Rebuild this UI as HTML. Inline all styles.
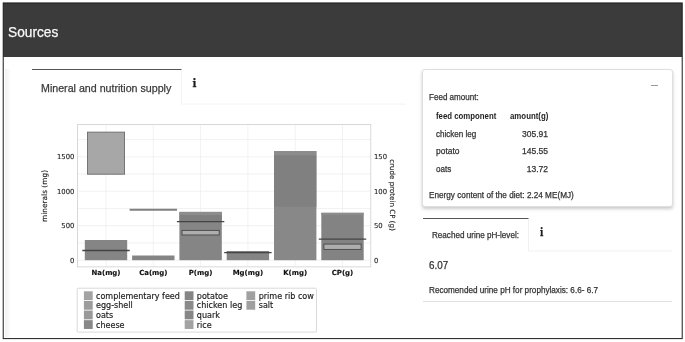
<!DOCTYPE html>
<html lang="en"><head><meta charset="utf-8"><title>Sources</title>
<style>
html,body{margin:0;padding:0;background:#fff;}
body{width:685px;height:342px;position:relative;overflow:hidden;font-family:"Liberation Sans",sans-serif;}
.t{position:absolute;white-space:nowrap;font-family:"Liberation Sans",sans-serif;-webkit-text-stroke:0.25px currentColor;}
.abs{position:absolute;}
svg text{font-family:"DejaVu Sans","Liberation Sans",sans-serif;}
</style></head><body>

<svg class="abs" style="left:0;top:0" width="685" height="342" viewBox="0 0 685 342"><rect x="3.22" y="2.95" width="678.98" height="54.05" fill="#3b3b3b"/><rect x="3.22" y="2.95" width="678.98" height="335.65" fill="none" stroke="#1c1c1c" stroke-width="1"/></svg>
<header>
<div class="t" style="left:8.00px;top:21.00px;font-size:15px;line-height:21px;font-weight:normal;color:#fafafa;transform:scaleX(0.9140);transform-origin:0 0;">Sources</div>
</header>
<main>
<section id="supply">
<div class="abs" style="left:5px;top:69px;width:4.5px;height:268px;background:linear-gradient(to right,#f1f1f1,#fbfbfb);"></div>
<div class="t" style="left:41.20px;top:80.59px;font-size:11px;line-height:15px;font-weight:normal;color:#3a3a3a;transform:scaleX(0.9686);transform-origin:0 0;">Mineral and nutrition supply</div>
<div class="t" style="left:192.5px;top:76.0px;font-family:'DejaVu Serif','Liberation Serif',serif;font-weight:bold;font-size:10.4px;line-height:14px;color:#1c1c1c;">i</div>
</section>
<section id="feed">
<div class="abs" id="card" style="left:422px;top:69px;width:249px;height:136px;border:1px solid #dfdfdf;border-radius:3px;box-shadow:0 2px 3.5px rgba(0,0,0,0.21);background:#fff;"></div>
<div class="abs" style="left:650.5px;top:84.5px;width:7.5px;height:1.2px;background:#999;"></div>
<div class="t" style="left:429.00px;top:90.95px;font-size:8.5px;line-height:12px;font-weight:normal;color:#333;transform:scaleX(0.9476);transform-origin:0 0;">Feed amount:</div>
<div class="t" style="left:435.50px;top:110.45px;font-size:8.5px;line-height:12px;font-weight:bold;color:#222;transform:scaleX(0.9184);transform-origin:0 0;-webkit-text-stroke:0;">feed component</div>
<div class="t" style="left:509.60px;top:110.45px;font-size:8.5px;line-height:12px;font-weight:bold;color:#222;transform:scaleX(0.9242);transform-origin:0 0;-webkit-text-stroke:0;">amount(g)</div>
<div class="t" style="left:435.50px;top:127.75px;font-size:8.5px;line-height:12px;font-weight:normal;color:#333;transform:scaleX(0.9476);transform-origin:0 0;">chicken leg</div>
<div class="t" style="right:137.0px;top:127.75px;font-size:8.5px;line-height:12px;color:#333;">305.91</div>
<div class="t" style="left:435.50px;top:145.15px;font-size:8.5px;line-height:12px;font-weight:normal;color:#333;transform:scaleX(0.9941);transform-origin:0 0;">potato</div>
<div class="t" style="right:137.0px;top:145.15px;font-size:8.5px;line-height:12px;color:#333;">145.55</div>
<div class="t" style="left:435.50px;top:163.15px;font-size:8.5px;line-height:12px;font-weight:normal;color:#333;transform:scaleX(0.9515);transform-origin:0 0;">oats</div>
<div class="t" style="right:137.0px;top:163.15px;font-size:8.5px;line-height:12px;color:#333;">13.72</div>
<div class="t" style="left:429.00px;top:189.05px;font-size:8.5px;line-height:12px;font-weight:normal;color:#333;transform:scaleX(0.9637);transform-origin:0 0;">Energy content of the diet: 2.24 ME(MJ)</div>
</section>
<section id="urine">
<div class="t" style="left:432.40px;top:229.35px;font-size:8.5px;line-height:12px;font-weight:normal;color:#333;transform:scaleX(0.9539);transform-origin:0 0;">Reached urine pH-level:</div>
<div class="t" style="left:539.8px;top:226.4px;font-family:'DejaVu Serif','Liberation Serif',serif;font-weight:bold;font-size:10.4px;line-height:13px;transform:scaleX(0.85);transform-origin:0 0;color:#1c1c1c;">i</div>
<div class="t" style="left:429.00px;top:259.44px;font-size:10px;line-height:14px;font-weight:normal;color:#333;transform:scaleX(0.9810);transform-origin:0 0;">6.07</div>
<div class="t" style="left:429.00px;top:284.25px;font-size:8.5px;line-height:12px;font-weight:normal;color:#333;transform:scaleX(0.9590);transform-origin:0 0;">Recomended urine pH for prophylaxis: 6.6- 6.7</div>
</section>
<svg class="abs" style="left:0;top:0" width="685" height="342" viewBox="0 0 685 342">
<path d="M32 69.5H181.5" stroke="#555" stroke-width="1" fill="none"/>
<path d="M181.5 70V104.1H406" stroke="#f3f3f3" stroke-width="1" fill="none"/>
<path d="M423 218.5H528.5" stroke="#555" stroke-width="1" fill="none"/>
<path d="M528.5 219V251H672" stroke="#f1f1f1" stroke-width="1" fill="none"/>
<path d="M423 301.5H672" stroke="#e2e2e2" stroke-width="1" fill="none"/>
<line x1="106.00" y1="124.6" x2="106.00" y2="266.9" stroke="#ececec" stroke-width="0.7"/>
<line x1="153.30" y1="124.6" x2="153.30" y2="266.9" stroke="#ececec" stroke-width="0.7"/>
<line x1="200.60" y1="124.6" x2="200.60" y2="266.9" stroke="#ececec" stroke-width="0.7"/>
<line x1="247.90" y1="124.6" x2="247.90" y2="266.9" stroke="#ececec" stroke-width="0.7"/>
<line x1="295.20" y1="124.6" x2="295.20" y2="266.9" stroke="#ececec" stroke-width="0.7"/>
<line x1="342.50" y1="124.6" x2="342.50" y2="266.9" stroke="#ececec" stroke-width="0.7"/>
<line x1="77.4" y1="260.20" x2="370.8" y2="260.20" stroke="#ececec" stroke-width="0.7"/>
<line x1="77.4" y1="242.97" x2="370.8" y2="242.97" stroke="#ececec" stroke-width="0.7"/>
<line x1="77.4" y1="225.73" x2="370.8" y2="225.73" stroke="#ececec" stroke-width="0.7"/>
<line x1="77.4" y1="208.50" x2="370.8" y2="208.50" stroke="#ececec" stroke-width="0.7"/>
<line x1="77.4" y1="191.27" x2="370.8" y2="191.27" stroke="#ececec" stroke-width="0.7"/>
<line x1="77.4" y1="174.03" x2="370.8" y2="174.03" stroke="#ececec" stroke-width="0.7"/>
<line x1="77.4" y1="156.80" x2="370.8" y2="156.80" stroke="#ececec" stroke-width="0.7"/>
<line x1="77.4" y1="139.57" x2="370.8" y2="139.57" stroke="#ececec" stroke-width="0.7"/>
<rect x="84.80" y="240.00" width="42.4" height="20.20" fill="#858585"/>
<rect x="132.10" y="255.50" width="42.4" height="4.70" fill="#858585"/>
<rect x="179.40" y="211.90" width="42.4" height="48.30" fill="#858585"/>
<rect x="179.40" y="211.90" width="42.4" height="3.30" fill="#8c8c8c"/>
<rect x="179.40" y="215.20" width="42.4" height="6.50" fill="#7f7f7f"/>
<rect x="226.70" y="251.10" width="42.4" height="9.10" fill="#858585"/>
<rect x="226.70" y="251.10" width="42.4" height="1.60" fill="#7f7f7f"/>
<rect x="274.00" y="151.00" width="42.4" height="109.20" fill="#888888"/>
<rect x="274.00" y="151.00" width="42.4" height="4.30" fill="#8c8c8c"/>
<rect x="274.00" y="155.30" width="42.4" height="51.50" fill="#808080"/>
<rect x="321.30" y="212.80" width="42.4" height="47.40" fill="#838383"/>
<rect x="321.30" y="212.80" width="42.4" height="2.10" fill="#8c8c8c"/>
<rect x="87.40" y="132.10" width="37.2" height="42.10" fill="#a7a7a7" stroke="#606060" stroke-width="0.8"/>
<rect x="182.00" y="230.40" width="37.2" height="4.60" fill="#aeaeae" stroke="#484848" stroke-width="0.9"/>
<rect x="323.90" y="244.10" width="37.2" height="5.30" fill="#aeaeae" stroke="#484848" stroke-width="0.9"/>
<line x1="82.30" y1="250.50" x2="129.70" y2="250.50" stroke="#444" stroke-width="1.3"/>
<line x1="129.60" y1="209.80" x2="177.00" y2="209.80" stroke="#808080" stroke-width="2.0"/>
<line x1="176.90" y1="221.60" x2="224.30" y2="221.60" stroke="#444" stroke-width="1.3"/>
<line x1="224.20" y1="252.60" x2="271.60" y2="252.60" stroke="#444" stroke-width="1.3"/>
<line x1="318.80" y1="239.10" x2="366.20" y2="239.10" stroke="#444" stroke-width="1.3"/>
<rect x="77.4" y="124.6" width="293.40" height="142.30" fill="none" stroke="#cfcfcf" stroke-width="0.8"/>
<text x="74.4" y="262.70" font-size="6.85" text-anchor="end" fill="#1a1a1a" stroke="#1a1a1a" stroke-width="0.12">0</text>
<text x="74.4" y="228.23" font-size="6.85" text-anchor="end" fill="#1a1a1a" stroke="#1a1a1a" stroke-width="0.12">500</text>
<text x="74.4" y="193.77" font-size="6.85" text-anchor="end" fill="#1a1a1a" stroke="#1a1a1a" stroke-width="0.12">1000</text>
<text x="74.4" y="159.30" font-size="6.85" text-anchor="end" fill="#1a1a1a" stroke="#1a1a1a" stroke-width="0.12">1500</text>
<text x="374.0" y="262.70" font-size="6.85" fill="#1a1a1a" stroke="#1a1a1a" stroke-width="0.12">0</text>
<text x="374.0" y="228.23" font-size="6.85" fill="#1a1a1a" stroke="#1a1a1a" stroke-width="0.12">50</text>
<text x="374.0" y="193.77" font-size="6.85" fill="#1a1a1a" stroke="#1a1a1a" stroke-width="0.12">100</text>
<text x="374.0" y="159.30" font-size="6.85" fill="#1a1a1a" stroke="#1a1a1a" stroke-width="0.12">150</text>
<text x="106.00" y="274.8" font-size="6.95" font-weight="bold" text-anchor="middle" fill="#111" stroke="#111" stroke-width="0.15">Na(mg)</text>
<text x="153.30" y="274.8" font-size="6.95" font-weight="bold" text-anchor="middle" fill="#111" stroke="#111" stroke-width="0.15">Ca(mg)</text>
<text x="200.60" y="274.8" font-size="6.95" font-weight="bold" text-anchor="middle" fill="#111" stroke="#111" stroke-width="0.15">P(mg)</text>
<text x="247.90" y="274.8" font-size="6.95" font-weight="bold" text-anchor="middle" fill="#111" stroke="#111" stroke-width="0.15">Mg(mg)</text>
<text x="295.20" y="274.8" font-size="6.95" font-weight="bold" text-anchor="middle" fill="#111" stroke="#111" stroke-width="0.15">K(mg)</text>
<text x="342.50" y="274.8" font-size="6.95" font-weight="bold" text-anchor="middle" fill="#111" stroke="#111" stroke-width="0.15">CP(g)</text>
<text transform="translate(46.8,196) rotate(-90)" font-size="7.42" text-anchor="middle" fill="#1a1a1a" stroke="#1a1a1a" stroke-width="0.12">minerals (mg)</text>
<text transform="translate(389.9,195) rotate(90)" font-size="7.1" text-anchor="middle" fill="#1a1a1a" stroke="#1a1a1a" stroke-width="0.12">crude protein CP (g)</text>
<rect x="77.2" y="288.2" width="239.3" height="43.9" rx="1" fill="#fff" stroke="#d0d0d0" stroke-width="0.8"/>
<rect x="83.9" y="291.30" width="8.8" height="8.8" fill="#a3a3a3"/>
<text x="96.0" y="298.70" font-size="8.05" fill="#1a1a1a" stroke="#1a1a1a" stroke-width="0.15">complementary feed</text>
<rect x="83.9" y="300.92" width="8.8" height="8.8" fill="#9c9c9c"/>
<text x="96.0" y="308.32" font-size="8.05" fill="#1a1a1a" stroke="#1a1a1a" stroke-width="0.15">egg-shell</text>
<rect x="83.9" y="310.54" width="8.8" height="8.8" fill="#999"/>
<text x="96.0" y="317.94" font-size="8.05" fill="#1a1a1a" stroke="#1a1a1a" stroke-width="0.15">oats</text>
<rect x="83.9" y="320.16" width="8.8" height="8.8" fill="#888"/>
<text x="96.0" y="327.56" font-size="8.05" fill="#1a1a1a" stroke="#1a1a1a" stroke-width="0.15">cheese</text>
<rect x="184.7" y="291.30" width="8.8" height="8.8" fill="#858585"/>
<text x="196.8" y="298.70" font-size="8.05" fill="#1a1a1a" stroke="#1a1a1a" stroke-width="0.15">potatoe</text>
<rect x="184.7" y="300.92" width="8.8" height="8.8" fill="#8a8a8a"/>
<text x="196.8" y="308.32" font-size="8.05" fill="#1a1a1a" stroke="#1a1a1a" stroke-width="0.15">chicken leg</text>
<rect x="184.7" y="310.54" width="8.8" height="8.8" fill="#878787"/>
<text x="196.8" y="317.94" font-size="8.05" fill="#1a1a1a" stroke="#1a1a1a" stroke-width="0.15">quark</text>
<rect x="184.7" y="320.16" width="8.8" height="8.8" fill="#a3a3a3"/>
<text x="196.8" y="327.56" font-size="8.05" fill="#1a1a1a" stroke="#1a1a1a" stroke-width="0.15">rice</text>
<rect x="246.4" y="291.30" width="8.8" height="8.8" fill="#a0a0a0"/>
<text x="258.7" y="298.70" font-size="8.05" fill="#1a1a1a" stroke="#1a1a1a" stroke-width="0.15">prime rib cow</text>
<rect x="246.4" y="300.92" width="8.8" height="8.8" fill="#a0a0a0"/>
<text x="258.7" y="308.32" font-size="8.05" fill="#1a1a1a" stroke="#1a1a1a" stroke-width="0.15">salt</text>
</svg>
</main>
</body></html>
